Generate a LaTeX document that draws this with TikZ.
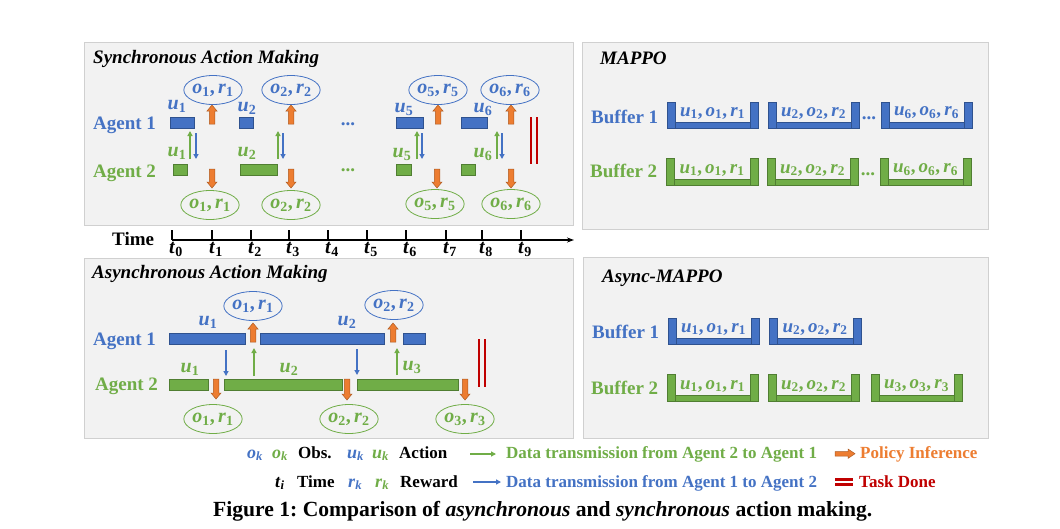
\RequirePackage{fix-cm}
\documentclass[tikz,border=0pt]{standalone}
\usepackage{amsmath}
\usepackage{fontspec}
\setmainfont{Liberation Serif}
\usetikzlibrary{shapes.geometric,arrows.meta}
\definecolor{cblue}{HTML}{4472C4}
\definecolor{cblueD}{HTML}{2F528F}
\definecolor{cgreen}{HTML}{70AD47}
\definecolor{cgreenD}{HTML}{507E32}
\definecolor{corange}{HTML}{ED7D31}
\definecolor{corangeD}{HTML}{AE5A21}
\definecolor{cred}{HTML}{C00000}
\definecolor{cpanel}{HTML}{F2F2F2}
\definecolor{cpanelD}{HTML}{D0D0D0}
\newcommand\fbig{\fontsize{19}{22}\selectfont}
\newcommand\fmth{\fontsize{20}{22}\selectfont}
\newcommand\fbuf{\fontsize{19}{21}\selectfont}
\newcommand\fleg{\fontsize{17}{19}\selectfont}
\newcommand\bv[2]{\textbf{\textit{#1}}_{\textbf{#2}}}
\newcommand\bvi[2]{\textbf{\textit{#1}}_{\textbf{\textit{#2}}}}
\newcommand\pr[4]{$\bv{#1}{#2}\textbf{,}\,\bv{#3}{#4}$}
\newcommand\tr[3]{$\bv{u}{#1}\textbf{,}\,\bv{o}{#2}\textbf{,}\,\bv{r}{#3}$}
\newcommand\orup[3]{\filldraw[fill=corange,draw=corangeD,line width=0.5pt] (#1-2.75,#2) -- (#1-2.75,#3+6) -- (#1-5,#3+6) -- (#1,#3) -- (#1+5,#3+6) -- (#1+2.75,#3+6) -- (#1+2.75,#2) -- cycle;}
\newcommand\ordown[3]{\filldraw[fill=corange,draw=corangeD,line width=0.5pt] (#1-2.75,#2) -- (#1-2.75,#3-6) -- (#1-5,#3-6) -- (#1,#3) -- (#1+5,#3-6) -- (#1+2.75,#3-6) -- (#1+2.75,#2) -- cycle;}
\newcommand\bufbox[7]{%
 \filldraw[fill=#6,draw=#6D,line width=0.6pt] (#2,#4) rectangle (#2+8,#5);
 \filldraw[fill=#6,draw=#6D,line width=0.6pt] (#3-8,#4) rectangle (#3,#5);
 \filldraw[fill=#6,draw=#6D,line width=0.6pt] (#2+8,#5-6) rectangle (#3-8,#5);
 \node[font=\fbuf,text=#6,inner sep=0] (#1) at ({(#2+#3)/2},{#5-15}) {#7};}
\begin{document}
\begin{tikzpicture}[x=1pt,y=-1pt,
  panel/.style={fill=cpanel,draw=cpanelD,line width=0.8pt},
  lab/.style={font=\fbig\bfseries,inner sep=0,anchor=base west},
  ttl/.style={font=\fbig\bfseries\itshape,inner sep=0,anchor=base west},
  ulab/.style={font=\fmth,inner sep=0},
  ell/.style={ellipse,draw=#1,text=#1,line width=0.8pt,minimum width=57pt,minimum height=29pt,inner sep=0,font=\fmth},
  bbar/.style={fill=cblue,draw=cblueD,line width=0.6pt},
  gbar/.style={fill=cgreen,draw=cgreenD,line width=0.6pt},
  tarrow/.style={line width=1.3pt,-{Triangle[length=5pt,width=5pt]}},
  done/.style={cred,line width=1.8pt},
  leg/.style={font=\fleg\bfseries,inner sep=0,anchor=base west},
  legm/.style={font=\fontsize{18}{20}\selectfont,inner sep=0,anchor=base west}]
\useasboundingbox (0,0) rectangle (1060,528);
\fill[white] (0,0) rectangle (1060,528);
% panels
\draw[panel] (84,42) rectangle (573,225);
\draw[panel] (84,258) rectangle (573,438);
\draw[panel] (582,42) rectangle (988,229);
\draw[panel] (583,257) rectangle (988,438);
% ===== synchronous =====
\node[ttl] (sttl) at (93,63) {Synchronous Action Making};
\node[lab,text=cblue] (sa1) at (93,129) {Agent 1};
\node[lab,text=cgreen] (sa2) at (93,177) {Agent 2};
\draw[bbar] (170,117) rectangle (194,128);
\draw[bbar] (239,117) rectangle (253,128);
\draw[bbar] (396,117) rectangle (423,128);
\draw[bbar] (461,117) rectangle (487,128);
\draw[gbar] (173,164) rectangle (187,175);
\draw[gbar] (240,164) rectangle (277,175);
\draw[gbar] (396,164) rectangle (411,175);
\draw[gbar] (461,164) rectangle (475,175);
\node[ulab,text=cblue] (su1) at (177,106) {$\bv{u}{1}$};
\node[ulab,text=cblue] (su2) at (247,108) {$\bv{u}{2}$};
\node[ulab,text=cblue] (su5) at (404,109) {$\bv{u}{5}$};
\node[ulab,text=cblue] (su6) at (483,109) {$\bv{u}{6}$};
\node[ulab,text=cgreen] (sv1) at (177,153) {$\bv{u}{1}$};
\node[ulab,text=cgreen] (sv2) at (247,153) {$\bv{u}{2}$};
\node[ulab,text=cgreen] (sv5) at (402,154) {$\bv{u}{5}$};
\node[ulab,text=cgreen] (sv6) at (483,154) {$\bv{u}{6}$};
\node[font=\fbig\bfseries,text=cblue,inner sep=0,anchor=base] (sd1) at (348,125) {...};
\node[font=\fbig\bfseries,text=cgreen,inner sep=0,anchor=base] (sd2) at (348,171) {...};
\node[ell=cblue] (so1) at (213,90) {\pr{o}{1}{r}{1}};
\node[ell=cblue] (so2) at (291,90) {\pr{o}{2}{r}{2}};
\node[ell=cblue] (so5) at (438,90) {\pr{o}{5}{r}{5}};
\node[ell=cblue] (so6) at (510,90) {\pr{o}{6}{r}{6}};
\node[ell=cgreen] (sp1) at (210,205) {\pr{o}{1}{r}{1}};
\node[ell=cgreen] (sp2) at (291,205) {\pr{o}{2}{r}{2}};
\node[ell=cgreen] (sp5) at (435,204) {\pr{o}{5}{r}{5}};
\node[ell=cgreen] (sp6) at (511,204) {\pr{o}{6}{r}{6}};
\orup{212}{124}{105}
\orup{291}{124}{105}
\orup{438}{124}{105}
\orup{511}{124}{105}
\ordown{212}{169}{188}
\ordown{291}{169}{188}
\ordown{437}{169}{188}
\ordown{511}{169}{188}
\foreach \g/\b in {190/196,278/283,417/422,497/502}{
  \draw[tarrow,cgreen] (\g,159) -- (\g,131);
  \draw[tarrow,cblue] (\b,133) -- (\b,159);
}
\draw[done] (531,117) -- (531,164);
\draw[done] (537,117) -- (537,164);
% ===== time axis =====
\node[lab] (time) at (112,245) {Time};
\coordinate (ax0) at (172,240);
\coordinate (ax1) at (574,240);
\draw[line width=1.2pt,-{Stealth[length=7pt,width=5pt]}] (ax0) -- (ax1);
\foreach \i/\x in {0/172,1/212,2/251,3/289,4/328,5/367,6/406,7/446,8/482,9/521}{
  \draw[line width=1.2pt] (\x,230) -- (\x,240);
  \node[font=\fmth,inner sep=0,anchor=base] (t\i) at (\x+4,253) {$\bv{t}{\i}$};
}
% ===== asynchronous =====
\node[ttl] (attl) at (92,278) {Asynchronous Action Making};
\node[lab,text=cblue] (aa1) at (93,345) {Agent 1};
\node[lab,text=cgreen] (aa2) at (95,390) {Agent 2};
\draw[bbar] (169,333) rectangle (245,344);
\draw[bbar] (260,333) rectangle (384,344);
\draw[bbar] (403,333) rectangle (425,344);
\draw[gbar] (169,379) rectangle (208,390);
\draw[gbar] (224,379) rectangle (342,390);
\draw[gbar] (357,379) rectangle (458,390);
\node[ulab,text=cblue] (au1) at (208,322) {$\bv{u}{1}$};
\node[ulab,text=cblue] (au2) at (347,322) {$\bv{u}{2}$};
\node[ulab,text=cgreen] (av1) at (190,369) {$\bv{u}{1}$};
\node[ulab,text=cgreen] (av2) at (289,369) {$\bv{u}{2}$};
\node[ulab,text=cgreen] (av3) at (412,367) {$\bv{u}{3}$};
\node[ell=cblue] (ao1) at (253,306) {\pr{o}{1}{r}{1}};
\node[ell=cblue] (ao2) at (394,305) {\pr{o}{2}{r}{2}};
\node[ell=cgreen] (ap1) at (213,419) {\pr{o}{1}{r}{1}};
\node[ell=cgreen] (ap2) at (349,419) {\pr{o}{2}{r}{2}};
\node[ell=cgreen] (ap3) at (465,419) {\pr{o}{3}{r}{3}};
\orup{253}{342}{323}
\orup{393}{342}{323}
\ordown{216}{379}{399}
\ordown{347}{379}{400}
\ordown{465}{379}{400}
\draw[tarrow,cblue] (226,350) -- (226,376);
\draw[tarrow,cblue] (357,349) -- (357,375);
\draw[tarrow,cgreen] (254,376) -- (254,348);
\draw[tarrow,cgreen] (397,375) -- (397,348);
\draw[done] (479,339) -- (479,387);
\draw[done] (485,339) -- (485,387);
% ===== MAPPO =====
\node[ttl] (mttl) at (600,64) {MAPPO};
\node[lab,text=cblue] (mb1) at (591,123) {Buffer 1};
\node[lab,text=cgreen] (mb2) at (590,177) {Buffer 2};
\bufbox{m11}{667}{758}{102}{128}{cblue}{\tr{1}{1}{1}}
\bufbox{m12}{768}{859}{102}{128}{cblue}{\tr{2}{2}{2}}
\bufbox{m16}{881}{972}{102}{128}{cblue}{\tr{6}{6}{6}}
\bufbox{m21}{666}{758}{158}{185}{cgreen}{\tr{1}{1}{1}}
\bufbox{m22}{767}{858}{158}{185}{cgreen}{\tr{2}{2}{2}}
\bufbox{m26}{880}{971}{158}{185}{cgreen}{\tr{6}{6}{6}}
\node[font=\fbig\bfseries,text=cblue,inner sep=0,anchor=base] (md1) at (869,119) {...};
\node[font=\fbig\bfseries,text=cgreen,inner sep=0,anchor=base] (md2) at (868,175) {...};
% ===== Async-MAPPO =====
\node[ttl] (nttl) at (602,282) {Async-MAPPO};
\node[lab,text=cblue] (nb1) at (592,338) {Buffer 1};
\node[lab,text=cgreen] (nb2) at (591,394) {Buffer 2};
\bufbox{n11}{668}{759}{318}{344}{cblue}{\tr{1}{1}{1}}
\bufbox{n12}{769}{861}{318}{344}{cblue}{\tr{2}{2}{2}}
\bufbox{n21}{667}{758}{374}{401}{cgreen}{\tr{1}{1}{1}}
\bufbox{n22}{768}{859}{374}{401}{cgreen}{\tr{2}{2}{2}}
\bufbox{n23}{871}{962}{374}{401}{cgreen}{\tr{3}{3}{3}}
% ===== legend =====
\node[legm,text=cblue] (lo1) at (247,458) {$\bvi{o}{k}$};
\node[legm,text=cgreen] (lo2) at (272,458) {$\bvi{o}{k}$};
\node[leg] (lobs) at (298,458) {Obs.};
\node[legm,text=cblue] (lu1) at (347,458) {$\bvi{u}{k}$};
\node[legm,text=cgreen] (lu2) at (372,458) {$\bvi{u}{k}$};
\node[leg] (lact) at (399,458) {Action};
\coordinate (lg0) at (470,454);
\coordinate (lg1) at (496,454);
\draw[tarrow,cgreen] (lg0) -- (lg1);
\node[leg,text=cgreen] (l21) at (506,458) {Data transmission from Agent 2 to Agent 1};
\filldraw[fill=corange,draw=corangeD,line width=0.5pt] (835,451.5) -- (848,451.5) -- (848,449) -- (855,453.7) -- (848,458.4) -- (848,456) -- (835,456) -- cycle;
\node[leg,text=corange] (lpol) at (860,458) {Policy Inference};
\node[legm] (lt) at (275,487) {$\bvi{t}{i}$};
\node[leg] (ltime) at (297,487) {Time};
\node[legm,text=cblue] (lr1) at (348,487) {$\bvi{r}{k}$};
\node[legm,text=cgreen] (lr2) at (375,487) {$\bvi{r}{k}$};
\node[leg] (lrew) at (400,487) {Reward};
\coordinate (lb0) at (473,482);
\coordinate (lb1) at (501,482);
\draw[tarrow,cblue] (lb0) -- (lb1);
\node[leg,text=cblue] (l12) at (506,487) {Data transmission from Agent 1 to Agent 2};
\draw[cred,line width=2.2pt] (835,479.5) -- (853,479.5);
\draw[cred,line width=2.2pt] (835,484.5) -- (853,484.5);
\node[leg,text=cred] (ldone) at (859,487) {Task Done};
% caption
\node[font=\fontsize{21.6}{24}\selectfont\bfseries\frenchspacing,inner sep=0,anchor=base west] (cap) at (213,516) {Figure 1: Comparison of \textit{asynchronous} and \textit{synchronous} action making.};
\end{tikzpicture}
\end{document}
